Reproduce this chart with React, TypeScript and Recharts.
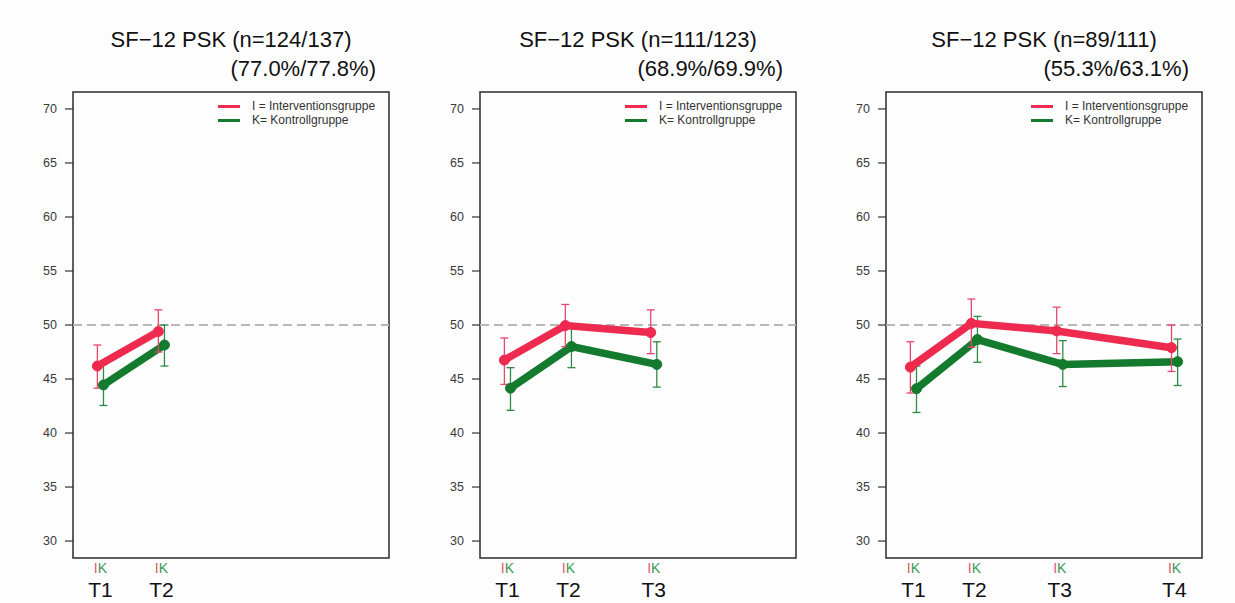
import React from 'react';
import { LineChart, Line, XAxis, YAxis, ErrorBar, ReferenceLine, ReferenceArea } from 'recharts';

// time points (position on the time axis) and labels
const timeLabels = ['T1', 'T2', 'T3', 'T4'];
const timePos = [0, 3, 7.2, 12.85];
const yTicks = [30, 35, 40, 45, 50, 55, 60, 65, 70];

// panel 1: T1-T2
const p1IntMean = [46.2, 49.4];
const p1IntLow = [44.15, 47.5];
const p1IntHigh = [48.15, 51.4];
const p1CtlMean = [44.45, 48.15];
const p1CtlLow = [42.55, 46.2];
const p1CtlHigh = [46.35, 50.0];

// panel 2: T1-T3
const p2IntMean = [46.75, 49.95, 49.3];
const p2IntLow = [44.5, 48.0, 47.35];
const p2IntHigh = [48.8, 51.9, 51.4];
const p2CtlMean = [44.15, 48.0, 46.35];
const p2CtlLow = [42.1, 46.05, 44.25];
const p2CtlHigh = [46.05, 49.95, 48.45];

// panel 3: T1-T4
const p3IntMean = [46.1, 50.15, 49.45, 47.9];
const p3IntLow = [43.7, 47.95, 47.35, 45.7];
const p3IntHigh = [48.45, 52.4, 51.65, 50.0];
const p3CtlMean = [44.1, 48.65, 46.35, 46.6];
const p3CtlLow = [41.9, 46.55, 44.3, 44.4];
const p3CtlHigh = [46.2, 50.8, 48.55, 48.7];

const titles = ['SF\u221212 PSK (n=124/137)', 'SF\u221212 PSK (n=111/123)', 'SF\u221212 PSK (n=89/111)'];
const subtitles = ['(77.0%/77.8%)', '(68.9%/69.9%)', '(55.3%/63.1%)'];

const RED = '#EE2A4E';
const GREEN = '#137A2E';
const X_DOMAIN = [-1.35, 14.2];
const Y_DOMAIN = [28.43, 71.57];
const DODGE = 0.15;

const PLOT_TOP = 92;
const PLOT_H = 466;
const PLOT_W = 316;
const Y_AXIS_W = 50;
const M_TOP = 6;
const panelLefts = [73, 480, 886];

const font = '"Liberation Sans", Arial, sans-serif';

function rows(mean: number[], low: number[], high: number[], shift: number) {
  return mean.map((m, i) => ({
    x: timePos[i] + shift,
    y: m,
    err: [m - low[i], high[i] - m],
  }));
}

const panels = [
  { int: rows(p1IntMean, p1IntLow, p1IntHigh, -DODGE), ctl: rows(p1CtlMean, p1CtlLow, p1CtlHigh, DODGE), n: 2 },
  { int: rows(p2IntMean, p2IntLow, p2IntHigh, -DODGE), ctl: rows(p2CtlMean, p2CtlLow, p2CtlHigh, DODGE), n: 3 },
  { int: rows(p3IntMean, p3IntLow, p3IntHigh, -DODGE), ctl: rows(p3CtlMean, p3CtlLow, p3CtlHigh, DODGE), n: 4 },
];

const TimeTick = (props: any) => {
  const { x, y, payload } = props;
  const label = timeLabels[timePos.indexOf(payload.value)];
  return (
    <g>
      <text x={x} y={y + 15} textAnchor="middle" fontSize={14} fontFamily={font}>
        <tspan fill="#E8557A">I</tspan>
        <tspan fill="#3E9A52">K</tspan>
      </text>
      <text x={x} y={y + 39} textAnchor="middle" fontSize={21} fontFamily={font} fill="#111">
        {label}
      </text>
    </g>
  );
};

const Panel = ({ idx }: { idx: number }) => {
  const p = panels[idx];
  const left = panelLefts[idx];
  return (
    <>
      <div style={{ position: 'absolute', left: left - 40, width: PLOT_W + 80, top: 27, textAlign: 'center', fontSize: 22, lineHeight: '26px', color: '#111', fontFamily: font }}>
        {titles[idx]}
      </div>
      <div style={{ position: 'absolute', left: left, width: PLOT_W - 13, top: 56, textAlign: 'right', fontSize: 22, lineHeight: '26px', color: '#111', fontFamily: font }}>
        {subtitles[idx]}
      </div>
      <div style={{ position: 'absolute', left: left - Y_AXIS_W, top: PLOT_TOP - M_TOP }}>
        <LineChart width={Y_AXIS_W + PLOT_W + 6} height={M_TOP + PLOT_H + 45} margin={{ top: M_TOP, right: 6, bottom: 0, left: 0 }}>
          <XAxis
            type="number"
            dataKey="x"
            domain={X_DOMAIN}
            allowDataOverflow
            ticks={timePos.slice(0, p.n)}
            interval={0}
            tick={<TimeTick />}
            tickLine={false}
            axisLine={false}
            tickSize={0}
            tickMargin={0}
            height={45}
          />
          <YAxis
            type="number"
            domain={Y_DOMAIN}
            allowDataOverflow
            ticks={yTicks}
            interval={0}
            width={Y_AXIS_W}
            tickSize={8}
            tickMargin={8}
            axisLine={false}
            tickLine={{ stroke: '#333', strokeWidth: 1.2 }}
            tick={{ fontSize: 12.5, fill: '#3a3a3a', fontFamily: font }}
          />
          <ReferenceLine y={50} stroke="#b8b8b8" strokeWidth={2} strokeDasharray="9 5" />
          <Line data={p.ctl} dataKey="y" stroke={GREEN} strokeWidth={7.5} dot={{ r: 5, fill: GREEN, stroke: GREEN, strokeWidth: 1 }} isAnimationActive={false}>
            <ErrorBar dataKey="err" direction="y" width={4} stroke="#2F8A43" strokeWidth={1.3} />
          </Line>
          <Line data={p.int} dataKey="y" stroke={RED} strokeWidth={7.5} dot={{ r: 5, fill: RED, stroke: RED, strokeWidth: 1 }} isAnimationActive={false}>
            <ErrorBar dataKey="err" direction="y" width={4} stroke="#E8476A" strokeWidth={1.3} />
          </Line>
          <ReferenceArea x1={X_DOMAIN[0]} x2={X_DOMAIN[1]} y1={Y_DOMAIN[0]} y2={Y_DOMAIN[1]} fill="none" stroke="#2b2b2b" strokeWidth={1.5} ifOverflow="visible" />
        </LineChart>
      </div>
      <div style={{ position: 'absolute', left: left + 145, top: 105, width: 22, height: 3, background: RED }} />
      <div style={{ position: 'absolute', left: left + 145, top: 119, width: 22, height: 3, background: GREEN }} />
      <div style={{ position: 'absolute', left: left + 179, top: 99, fontSize: 12, lineHeight: '14px', color: '#333', fontFamily: font, whiteSpace: 'nowrap' }}>
        I = Interventionsgruppe
        <br />
        K= Kontrollgruppe
      </div>
    </>
  );
};

export default function App() {
  return (
    <div style={{ position: 'absolute', left: 0, top: 0, width: 1235, height: 603, background: '#fdfdfe', overflow: 'hidden' }}>
      {[0, 1, 2].map((i) => (
        <Panel key={i} idx={i} />
      ))}
    </div>
  );
}
